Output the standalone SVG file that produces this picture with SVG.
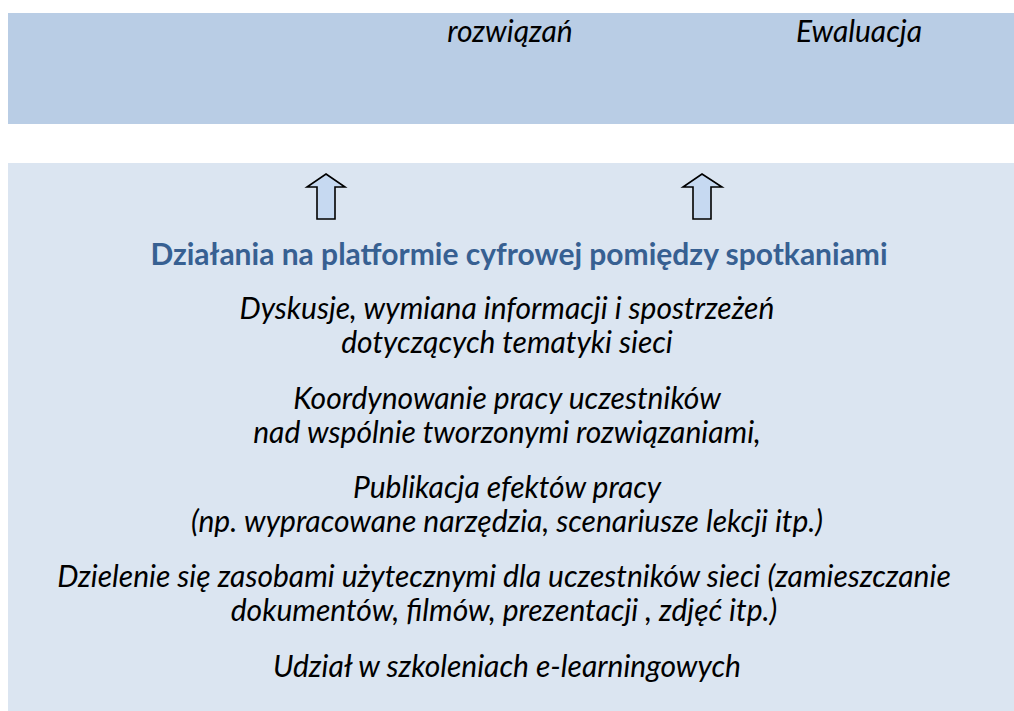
<svg xmlns="http://www.w3.org/2000/svg" width="1014" height="711" viewBox="0 0 1014 711">
<style>
.t{font-family:Lato,"Open Sans","Liberation Sans",sans-serif;font-style:italic;font-size:30px;fill:#000;text-anchor:middle}
.h{font-family:Lato,"Open Sans","Liberation Sans",sans-serif;font-weight:bold;font-size:30px;fill:#376092;text-anchor:middle}
.arr{fill:#C6D9F1;stroke:#000;stroke-width:1.6;stroke-linejoin:miter}
</style>
<rect width="1014" height="711" fill="#fff"/>
<g id="top-box">
<rect x="8" y="13" width="1006" height="111" fill="#B9CDE5"/>
<text class="t" x="510" y="42">rozwiązań</text>
<text class="t" x="859" y="42">Ewaluacja</text>
</g>
<g id="platform-box">
<rect x="8" y="163" width="1006" height="548" fill="#DBE5F1"/>
<text class="h" x="519" y="265">Działania na platformie cyfrowej pomiędzy spotkaniami</text>
<text class="t" x="507" y="319">Dyskusje, wymiana informacji i spostrzeżeń</text>
<text class="t" x="507" y="353">dotyczących tematyki sieci</text>
<text class="t" x="507" y="409">Koordynowanie pracy uczestników</text>
<text class="t" x="507" y="443">nad wspólnie tworzonymi rozwiązaniami,</text>
<text class="t" x="507" y="498">Publikacja efektów pracy</text>
<text class="t" x="507" y="532">(np. wypracowane narzędzia, scenariusze lekcji itp.)</text>
<text class="t" x="504" y="587">Dzielenie się zasobami użytecznymi dla uczestników sieci (zamieszczanie</text>
<text class="t" x="504" y="621">dokumentów, filmów, prezentacji , zdjęć itp.)</text>
<text class="t" x="507" y="677">Udział w szkoleniach e-learningowych</text>
</g>
<g id="connectors">
<polygon class="arr" points="326,174 345,187 335,187 335,219 317,219 317,187 307,187"/>
<polygon class="arr" points="702,174 722,187 711,187 711,219 693,219 693,187 683,187"/>
</g>
</svg>
